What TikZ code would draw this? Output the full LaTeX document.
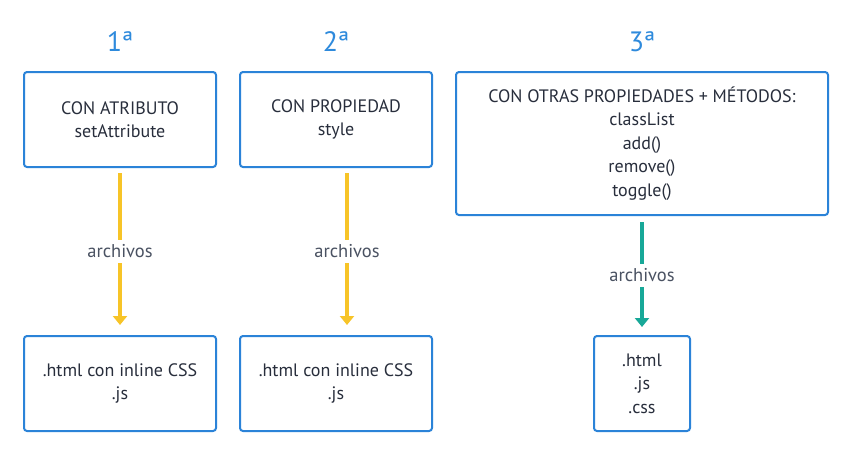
\documentclass[tikz,border=0pt]{standalone}
\usepackage{fontspec}
\setmainfont{PT Sans}
\definecolor{dbblue}{RGB}{43,131,216}
\definecolor{dbnum}{RGB}{46,138,220}
\definecolor{dbyellow}{RGB}{247,196,40}
\definecolor{dbteal}{RGB}{24,168,152}
\definecolor{dbtext}{RGB}{40,46,60}
\definecolor{dbgray}{RGB}{74,82,98}
\usetikzlibrary{arrows.meta,positioning}

\begin{document}
\begin{tikzpicture}[
  x=1pt, y=-1pt,
  dbbox/.style={
    rectangle, rounded corners=3pt,
    draw=dbblue, line width=2pt,
    fill=white,
    font=\fontsize{18}{23.6}\selectfont,
    align=center,
    text=dbtext
  },
  dbnumber/.style={font=\fontsize{28}{28}\selectfont, text=dbnum},
  flow/.style={-{Triangle[length=9pt,width=14pt]}, line width=3.5pt,
    shorten <=5pt, shorten >=10pt},
  fileslbl/.style={fill=white, font=\fontsize{18.5}{18.5}\selectfont,
    text=dbgray, inner xsep=2pt, inner ysep=5pt}
]
\useasboundingbox (0,0) rectangle (852,456);

\node[dbnumber] (n1) at (120,42) {1ª};
\node[dbnumber] (n2) at (336,42) {2ª};
\node[dbnumber] (n3) at (642,42) {3ª};

\node[dbbox, minimum width=192pt, minimum height=95pt] (t1) at (120,119.5)
  {CON ATRIBUTO\\setAttribute};
\node[dbbox, minimum width=192pt, minimum height=95pt] (t2) at (336,119.5)
  {CON PROPIEDAD\\style};
\node[dbbox, minimum width=372pt, minimum height=143pt] (t3) at (642,143.5)
  {CON OTRAS PROPIEDADES + MÉTODOS:\\classList\\add()\\remove()\\toggle()};

\node[dbbox, minimum width=192pt, minimum height=95pt] (b1) at (120,383.5)
  {.html con inline CSS\\.js};
\node[dbbox, minimum width=192pt, minimum height=95pt] (b2) at (336,383.5)
  {.html con inline CSS\\.js};
\node[dbbox, minimum width=96pt, minimum height=95pt] (b3) at (642,383.5)
  {.html\\.js\\.css};

\draw[flow, draw=dbyellow] (t1) -- node[fileslbl] {archivos} (b1);
\draw[flow, draw=dbyellow] ([xshift=11pt]t2.south) -- node[fileslbl] {archivos} ([xshift=11pt]b2.north);
\draw[flow, draw=dbteal, shorten <=6pt, shorten >=8pt] (t3) -- node[fileslbl] {archivos} (b3);
\end{tikzpicture}
\end{document}
